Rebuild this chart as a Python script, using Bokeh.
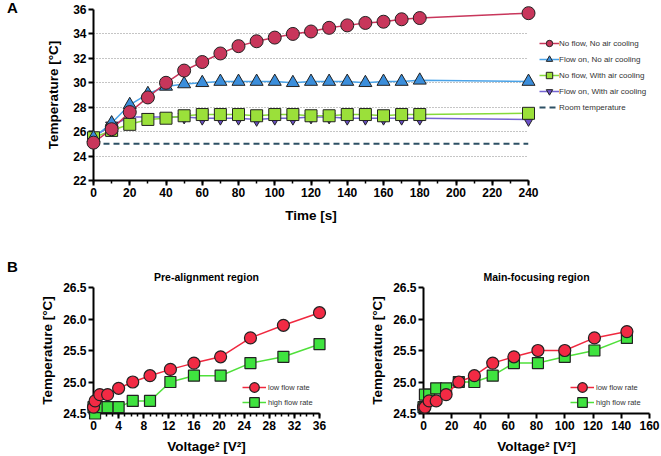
from bokeh.plotting import figure
from bokeh.layouts import column, row
from bokeh.models import (Range1d, SingleIntervalTicker, FixedTicker, PrintfTickFormatter,
                          Legend, LegendItem, Div)
from bokeh.embed import file_html
from bokeh.resources import INLINE

# ---------------- data: panel A ----------------
time_s = [0, 10, 20, 30, 40, 50, 60, 70, 80, 90, 100, 110, 120, 130, 140, 150, 160, 170, 180, 240]
no_flow_no_air = [25.1, 26.2, 27.6, 28.8, 30.0, 31.0, 31.7, 32.4, 33.0, 33.4, 33.7, 34.0, 34.2,
                  34.5, 34.7, 34.9, 35.0, 35.2, 35.3, 35.7]
flow_on_no_air = [25.5, 26.7, 28.2, 29.1, 29.7, 29.9, 30.0, 30.1, 30.1, 30.1, 30.1, 30.0, 30.1,
                  30.1, 30.1, 30.0, 30.1, 30.1, 30.2, 30.1]
no_flow_air = [25.5, 26.1, 26.6, 27.0, 27.1, 27.3, 27.4, 27.4, 27.4, 27.3, 27.4, 27.4, 27.3,
               27.3, 27.4, 27.4, 27.3, 27.4, 27.4, 27.5]
flow_on_air = [25.6, 26.5, 27.2, 27.2, 27.2, 27.2, 27.1, 27.1, 27.1, 27.0, 27.1, 27.1, 27.2,
               27.2, 27.1, 27.1, 27.1, 27.1, 27.1, 27.0]
room_x = [0, 240]
room_y = [25, 25]

# ---------------- data: panel B ----------------
pre_v2 = [0, 0.25, 1, 2.25, 4, 6.25, 9, 12.25, 16, 20.25, 25, 30.25, 36]
pre_low = [24.6, 24.7, 24.8, 24.8, 24.9, 25.0, 25.1, 25.2, 25.3, 25.4, 25.7, 25.9, 26.1]
pre_high = [24.6, 24.5, 24.6, 24.6, 24.6, 24.7, 24.7, 25.0, 25.1, 25.1, 25.3, 25.4, 25.6]

main_v2 = [0, 1, 4, 9, 16, 25, 36, 49, 64, 81, 100, 121, 144]
main_low = [24.6, 24.6, 24.7, 24.7, 24.8, 25.0, 25.1, 25.3, 25.4, 25.5, 25.5, 25.7, 25.8]
main_high = [24.6, 24.8, 24.8, 24.9, 24.9, 25.0, 25.0, 25.1, 25.3, 25.3, 25.4, 25.5, 25.7]

FONT = "Liberation Sans"
OUT = "#222222"


def style_axes(p):
    for ax in (p.xaxis[0], p.yaxis[0]):
        ax.axis_line_width = 2
        ax.axis_line_color = "black"
        ax.major_tick_line_width = 2
        ax.major_tick_line_color = "black"
        ax.major_tick_in = 0
        ax.major_tick_out = 5
        ax.minor_tick_in = 0
        ax.minor_tick_out = 3
        ax.minor_tick_line_width = 1.5
        ax.minor_tick_line_color = "black"
        ax.major_label_text_font = FONT
        ax.major_label_text_font_style = "bold"
        ax.major_label_text_font_size = "12px"
        ax.major_label_text_color = "black"
        ax.major_label_standoff = 2
        ax.axis_label_text_font = FONT
        ax.axis_label_text_font_style = "bold"
        ax.axis_label_text_font_size = "13.5px"
        ax.axis_label_text_color = "black"
    p.outline_line_color = None
    p.background_fill_color = "white"
    p.border_fill_color = "white"


def letter(t, top):
    return Div(text=t, width=20, height=top + 18, margin=(0, 0, 0, 0),
               styles={"font-family": FONT, "font-weight": "bold", "font-size": "15px",
                       "line-height": "15px", "padding-left": "7px",
                       "padding-top": "%dpx" % top,
                       "box-sizing": "border-box", "color": "black"})


def style_legend(leg, gh, size):
    leg.padding = 0
    leg.margin = 0
    leg.spacing = 0
    leg.glyph_width = 20 if gh < 20 else gh
    leg.glyph_height = gh
    leg.label_height = gh
    leg.label_standoff = 0 if gh < 20 else 2
    leg.label_text_font = FONT
    leg.label_text_font_size = size
    leg.label_text_color = "#333333"
    leg.border_line_color = None
    leg.background_fill_alpha = 0


# ---------------- Panel A ----------------
pA = figure(frame_width=435, frame_height=171, min_border_left=73, min_border_right=133,
            min_border_top=9, min_border_bottom=50,
            x_range=Range1d(0, 240), y_range=Range1d(22, 36),
            output_backend="svg", toolbar_location=None)
style_axes(pA)
pA.xaxis.ticker = SingleIntervalTicker(interval=20, num_minor_ticks=2)
pA.yaxis.ticker = SingleIntervalTicker(interval=2, num_minor_ticks=0)
pA.xaxis.axis_label = "Time [s]"
pA.yaxis.axis_label = "Temperature [°C]"
pA.yaxis.axis_label_standoff = 9
pA.xaxis.axis_label_standoff = 8
pA.xgrid.grid_line_color = None
pA.ygrid.grid_line_color = "#8a8a8a"
pA.ygrid.grid_line_dash = "1 2"
pA.ygrid.grid_line_width = 1

series_A = [
    ("Flow on, With air cooling", flow_on_air, "inverted_triangle", "#6A4FC8", "#7565D2", 12),
    ("No flow, With air cooling", no_flow_air, "square", "#9BE03A", "#86DA3A", 12),
    ("Flow on, No air cooling", flow_on_no_air, "triangle", "#3B8EDB", "#4AA3E8", 13),
    ("No flow, No air cooling", no_flow_no_air, "circle", "#C8365B", "#C8365B", 13),
]
room = pA.line(room_x, room_y, line_color="#2D5064", line_width=2, line_dash="6 4")
items = {}
for name, ys, mk, fill, lc, sz in series_A:
    lr = pA.line(time_s, ys, line_color=lc, line_width=1.5)
    sr = pA.scatter(time_s, ys, marker=mk, size=sz, fill_color=fill, line_color=OUT,
                    line_width=1, level="overlay")
    items[name] = [lr, sr]

legA = Legend(items=[
    LegendItem(label="No flow, No air cooling", renderers=items["No flow, No air cooling"]),
    LegendItem(label="Flow on, No air cooling", renderers=items["Flow on, No air cooling"]),
    LegendItem(label="No flow, With air cooling", renderers=items["No flow, With air cooling"]),
    LegendItem(label="Flow on, With air cooling", renderers=items["Flow on, With air cooling"]),
    LegendItem(label="Room temperature", renderers=[room]),
], location=(11, 65))
style_legend(legA, 16, "8px")
pA.add_layout(legA, "right")


# ---------------- Panel B ----------------
def make_b(title, xs, low, high, xr, border_l, border_r, interval, n_minor, leg_x):
    p = figure(frame_width=226, frame_height=126, min_border_left=border_l,
               min_border_right=border_r, min_border_top=57, min_border_bottom=43,
               x_range=xr, y_range=Range1d(24.5, 26.5),
               output_backend="svg", toolbar_location=None, title=title)
    style_axes(p)
    p.title.text_font = FONT
    p.title.text_font_style = "bold"
    p.title.text_font_size = "10.5px"
    p.title.align = "center"
    p.title.text_color = "black"
    p.xaxis.ticker = SingleIntervalTicker(interval=interval, num_minor_ticks=n_minor)
    p.yaxis.ticker = FixedTicker(ticks=[24.5, 25.0, 25.5, 26.0, 26.5])
    p.yaxis.formatter = PrintfTickFormatter(format="%.1f")
    p.xaxis.axis_label = "Voltage² [V²]"
    p.yaxis.axis_label = "Temperature [°C]"
    p.yaxis.axis_label_standoff = 5
    p.xaxis.axis_label_standoff = 6
    p.xgrid.grid_line_color = None
    p.ygrid.grid_line_color = None

    lh = p.line(xs, high, line_color="#4FE03A", line_width=1.5, level="overlay")
    sh = p.scatter(xs, high, marker="square", size=11, fill_color="#3FE33F", line_color=OUT,
                   line_width=1.2, level="overlay")
    ll = p.line(xs, low, line_color="#F0283F", line_width=1.5, level="overlay")
    sl = p.scatter(xs, low, marker="circle", size=12, fill_color="#F22A44", line_color=OUT,
                   line_width=1.2, level="overlay")

    leg1 = Legend(items=[LegendItem(label="low flow rate", renderers=[ll, sl])],
                  location=(leg_x, 14))
    leg2 = Legend(items=[LegendItem(label="high flow rate", renderers=[lh, sh])],
                  location=(leg_x, -1))
    for lg in (leg1, leg2):
        style_legend(lg, 24, "7.5px")
        p.add_layout(lg)
    return p


pB1 = make_b("Pre-alignment region", pre_v2, pre_low, pre_high, Range1d(0, 36),
             73, 10, 4, 4, 149)
pB2 = make_b("Main-focusing region", main_v2, main_low, main_high, Range1d(0, 160),
             94, 12, 20, 0, 147)

layout = column(row(letter("A", 0), pA, spacing=0),
                row(letter("B", 29), pB1, pB2, spacing=0), spacing=0)
open("out.html", "w").write(file_html(layout, INLINE))
